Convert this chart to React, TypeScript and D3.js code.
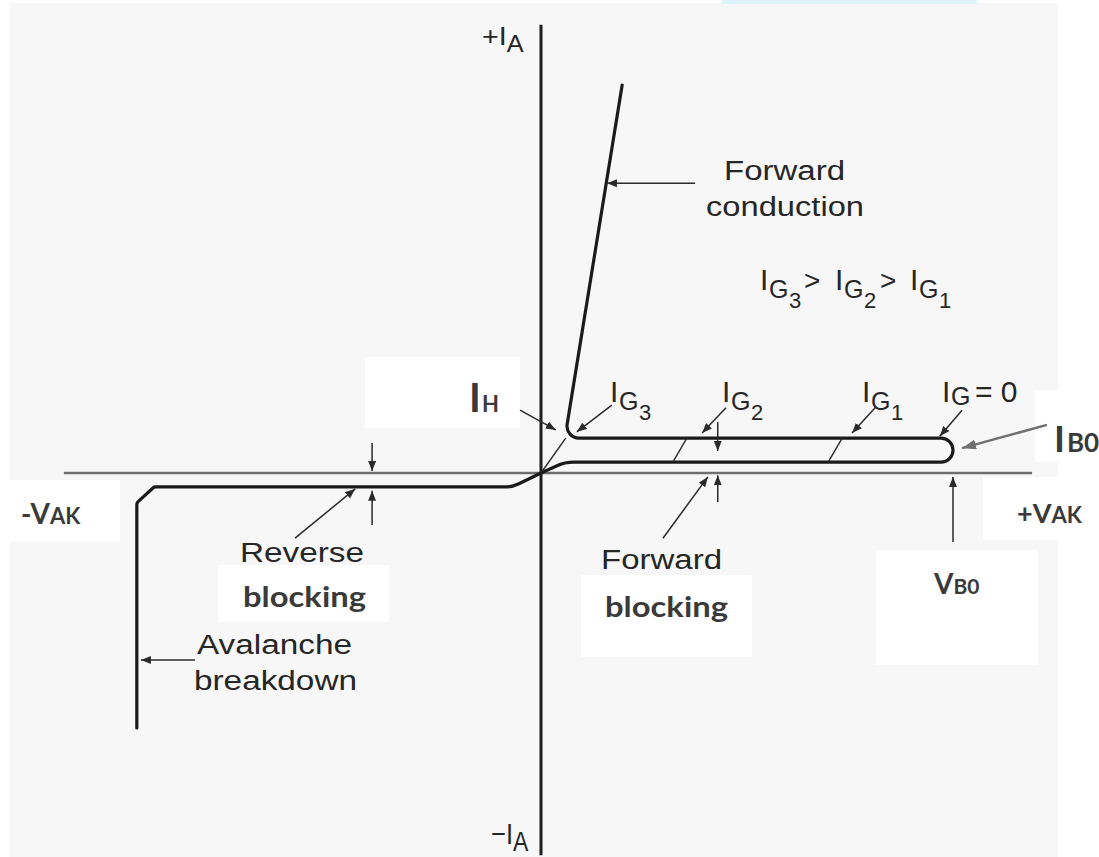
import React from 'react';
import * as d3 from 'd3';

type Pt = [number, number];

// ---- data: V in % of break-over voltage V_B0, I in % of plotted anode current ----
const forwardBranch: Pt[] = [[0, 0], [5.8, 2.8], [100, 2.8], [100, 9.0], [5.8, 9.0], [19.7, 100]];
const reverseBranch: Pt[] = [[0, 0], [-7.0, -3.6], [-93.9, -3.6], [-98.1, -7.7], [-98.1, -65.7]];
const gateTransitions: Pt[][] = [
  [[0, 0], [6.0, 9.0]],
  [[32.0, 2.8], [35.4, 9.0]],
  [[69.7, 2.8], [73.1, 9.0]],
];
const vAxisExtent: Pt = [-115.8, 119.2];
const iAxisExtent: Pt = [-98.5, 115.5];
const gateIndices = ['3', '2', '1'];

// pointer arrows: [from, to]
const pointers: Pt[][] = [
  [[37.4, 74.7], [16.0, 74.7]],   // forward conduction
  [[-5.1, 16.2], [3.6, 11.1]],    // I_H
  [[17.2, 17.5], [8.7, 10.6]],    // I_G3
  [[44.9, 16.8], [39.1, 10.3]],   // I_G2
  [[81.1, 16.8], [75.5, 10.3]],   // I_G1
  [[102.2, 16.2], [96.8, 9.5]],   // I_G = 0
  [[29.6, -16.8], [40.5, -1.0]],  // forward blocking
  [[42.9, -7.5], [42.9, -0.6]],   // forward gap (up)
  [[42.9, 13.1], [42.9, 5.7]],    // forward gap (down)
  [[-59.7, -16.8], [-45.1, -4.1]],// reverse blocking
  [[-41.0, -13.4], [-41.0, -4.6]],// reverse gap (up)
  [[-41.0, 7.7], [-41.0, 0.5]],   // reverse gap (down)
  [[-84.0, -48.2], [-97.1, -48.2]],// avalanche
  [[100, -17.8], [100, -1.0]],    // V_B0
];
const breakOverPointer: Pt[] = [[122.8, 12.4], [102.2, 6.4]]; // I_B0

const x = d3.scaleLinear().domain([0, 100]).range([541, 953]);
const y = d3.scaleLinear().domain([0, 100]).range([473, 85]);

function roundedPath(pts: Pt[], radii: number[]): string {
  const p = d3.path();
  const s = pts.map(([v, i]) => [x(v), y(i)] as Pt);
  p.moveTo(s[0][0], s[0][1]);
  for (let k = 1; k < s.length - 1; k++) {
    p.arcTo(s[k][0], s[k][1], s[k + 1][0], s[k + 1][1], radii[k - 1]);
  }
  const last = s[s.length - 1];
  p.lineTo(last[0], last[1]);
  return p.toString();
}

const HEL = "'Liberation Sans', Arial, sans-serif";
const BOLD = "Lato, 'Open Sans', sans-serif";
const TXT = '#262626';
const BTXT = '#3a3a3a';

function IG({ X, Y, idx }: { X: number; Y: number; idx: string }) {
  return (
    <text fontFamily={HEL} fill={TXT}>
      <tspan x={X - 3} y={Y} fontSize={30}>I</tspan>
      <tspan x={X + 6} y={Y + 8} fontSize={25}>G</tspan>
      <tspan x={X + 26} y={Y + 18} fontSize={22}>{idx}</tspan>
    </text>
  );
}

export default function App() {
  const line = d3.line<Pt>().x((d) => x(d[0])).y((d) => y(d[1]));
  return (
    <svg width={1099} height={857} style={{ position: 'absolute', left: 0, top: 0 }}>
      <defs>
        <marker id="ah" viewBox="0 0 10 8" refX="10" refY="4" markerWidth="10" markerHeight="8" markerUnits="userSpaceOnUse" orient="auto">
          <path d="M0,0 L10,4 L0,8 Z" fill="#2a2a2a" />
        </marker>
        <marker id="ahg" viewBox="0 0 14 10" refX="14" refY="5" markerWidth="14" markerHeight="10" markerUnits="userSpaceOnUse" orient="auto">
          <path d="M0,0 L14,5 L0,10 Z" fill="#707070" />
        </marker>
      </defs>
      <rect x={0} y={0} width={1099} height={857} fill="#ffffff" />
      <rect x={10} y={3} width={1048} height={854} fill="#f7f7f7" />
      <rect x={722} y={0} width={255} height={4} fill="#dff3fa" />

      {/* white label boxes */}
      <rect x={365} y={357} width={155} height={71} fill="#ffffff" />
      <rect x={1035} y={390} width={64} height={72} fill="#ffffff" />
      <rect x={10} y={480} width={110} height={62} fill="#ffffff" />
      <rect x={983} y={477} width={116} height={63} fill="#ffffff" />
      <rect x={876} y={550} width={162} height={115} fill="#ffffff" />
      <rect x={581} y={575} width={171} height={82} fill="#ffffff" />
      <rect x={218} y={565} width={171} height={57} fill="#ffffff" />

      {/* axes */}
      <line x1={x(vAxisExtent[0])} x2={x(vAxisExtent[1])} y1={y(0)} y2={y(0)} stroke="#6e6e6e" strokeWidth={2.5} />
      <line x1={x(0)} x2={x(0)} y1={y(iAxisExtent[1])} y2={y(iAxisExtent[0])} stroke="#1e1e1e" strokeWidth={3} />

      {/* characteristic */}
      <path d={roundedPath(forwardBranch, [40, 12, 12, 12])} fill="none" stroke="#1a1a1a" strokeWidth={3.2} strokeLinejoin="round" strokeLinecap="round" />
      <path d={roundedPath(reverseBranch, [30, 4, 4])} fill="none" stroke="#1a1a1a" strokeWidth={3.2} strokeLinejoin="round" strokeLinecap="round" />
      {gateTransitions.map((g, k) => (
        <path key={k} d={line(g) || ''} fill="none" stroke="#2a2a2a" strokeWidth={1.4} />
      ))}

      {/* pointers */}
      {pointers.map((p, k) => (
        <path key={k} d={line(p) || ''} stroke="#2a2a2a" strokeWidth={1.5} fill="none" markerEnd="url(#ah)" />
      ))}
      <path d={line(breakOverPointer) || ''} stroke="#707070" strokeWidth={2.5} fill="none" markerEnd="url(#ahg)" />

      {/* axis labels */}
      <text fontFamily={HEL} fill={TXT} transform="translate(482,45) scale(1.1,1)">
        <tspan fontSize={26}>+I</tspan>
        <tspan fontSize={23} dy={7}>A</tspan>
      </text>
      <text fontFamily={HEL} fill={TXT} transform="translate(491,844) scale(0.85,1)">
        <tspan fontSize={30}>−I</tspan>
        <tspan fontSize={27} dy={7}>A</tspan>
      </text>

      {/* descriptive labels */}
      <text fontFamily={HEL} fill={TXT} fontSize={27} x={724} y={180} textLength={121} lengthAdjust="spacingAndGlyphs">Forward</text>
      <text fontFamily={HEL} fill={TXT} fontSize={27} x={706} y={216} textLength={158} lengthAdjust="spacingAndGlyphs">conduction</text>
      <text fontFamily={HEL} fill={TXT} fontSize={27} x={240} y={562} textLength={124} lengthAdjust="spacingAndGlyphs">Reverse</text>
      <text fontFamily={HEL} fill={TXT} fontSize={27} x={197} y={654} textLength={155} lengthAdjust="spacingAndGlyphs">Avalanche</text>
      <text fontFamily={HEL} fill={TXT} fontSize={27} x={194} y={690} textLength={163} lengthAdjust="spacingAndGlyphs">breakdown</text>
      <text fontFamily={HEL} fill={TXT} fontSize={27} x={601} y={569} textLength={121} lengthAdjust="spacingAndGlyphs">Forward</text>
      <text fontFamily={BOLD} fontWeight={700} fill={BTXT} fontSize={28} x={243} y={607} textLength={123} lengthAdjust="spacingAndGlyphs">blocking</text>
      <text fontFamily={BOLD} fontWeight={700} fill={BTXT} fontSize={28} x={605} y={617} textLength={123} lengthAdjust="spacingAndGlyphs">blocking</text>

      {/* gate current labels */}
      <IG X={613} Y={402} idx={gateIndices[0]} />
      <IG X={725} Y={402} idx={gateIndices[1]} />
      <IG X={865} Y={402} idx={gateIndices[2]} />
      <text fontFamily={HEL} fill={TXT}>
        <tspan x={942} y={402} fontSize={30}>I</tspan>
        <tspan x={951} y={405} fontSize={25}>G</tspan>
        <tspan x={975} y={402} fontSize={30}>= 0</tspan>
      </text>
      <IG X={763} Y={290} idx={gateIndices[0]} />
      <text x={804} y={290} fontFamily={HEL} fill={TXT} fontSize={28}>&gt;</text>
      <IG X={838} Y={290} idx={gateIndices[1]} />
      <text x={880} y={290} fontFamily={HEL} fill={TXT} fontSize={28}>&gt;</text>
      <IG X={913} Y={290} idx={gateIndices[2]} />

      {/* bold callouts */}
      <text fontFamily={BOLD} fontWeight={700} fill={BTXT}>
        <tspan x={469} y={412} fontSize={40}>I</tspan>
        <tspan x={482} y={412} fontSize={22}>H</tspan>
      </text>
      <text fontFamily={BOLD} fontWeight={700} fill={BTXT}>
        <tspan x={1054} y={452} fontSize={37}>I</tspan>
        <tspan x={1067} y={452} fontSize={26}>B0</tspan>
      </text>
      <text fontFamily={BOLD} fontWeight={700} fill={BTXT} x={21} y={524}>
        <tspan fontSize={28}>-V</tspan>
        <tspan fontSize={22}>AK</tspan>
      </text>
      <text fontFamily={BOLD} fontWeight={700} fill={BTXT} x={1017} y={523}>
        <tspan fontSize={27}>+V</tspan>
        <tspan fontSize={22}>AK</tspan>
      </text>
      <text fontFamily={BOLD} fontWeight={700} fill={BTXT} x={934} y={594}>
        <tspan fontSize={28}>V</tspan>
        <tspan fontSize={21}>B0</tspan>
      </text>
    </svg>
  );
}
